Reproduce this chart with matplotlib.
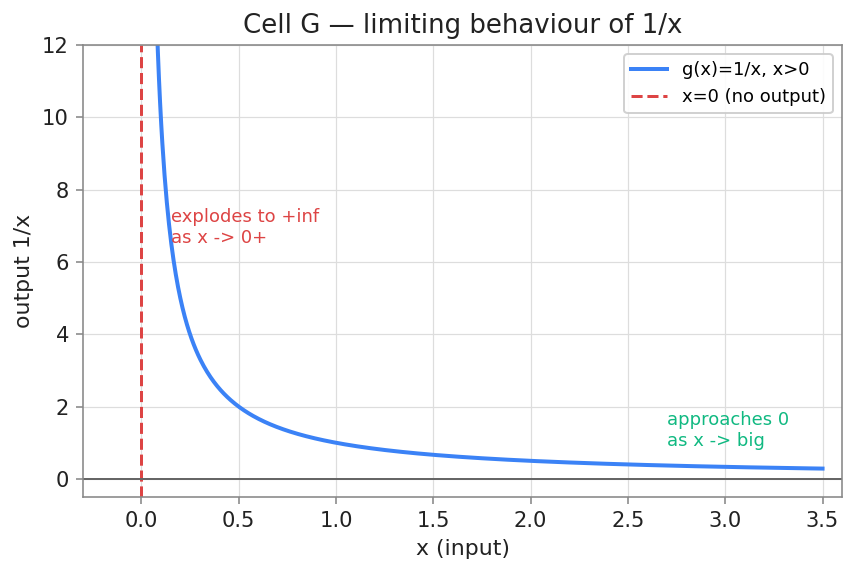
import matplotlib
matplotlib.use("Agg")
import matplotlib.pyplot as plt
import numpy as np

# data
x_vals = np.linspace(0.05, 3.5, 600)
g_vals = 1.0 / x_vals
asymptote_x = 0.0

blue = "#3b82f6"
red = "#dd4444"
green = "#10b981"
ink = "#222222"

fig = plt.figure(figsize=(856 / 144, 573 / 144), dpi=144)
ax = fig.add_axes([83 / 856, 1 - 497 / 573, (842 - 83) / 856, (497 - 45) / 573])

ax.plot(x_vals, g_vals, color=blue, linewidth=2.0, label="g(x)=1/x, x>0")
ax.axvline(asymptote_x, color=red, linestyle="--", linewidth=1.5, label="x=0 (no output)")
ax.axhline(0, color="#666666", linewidth=1.0)

ax.text(0.15, 6.42, "explodes to +inf\nas x -> 0+", color=red, fontsize=9,
        ha="left", va="bottom")
ax.text(2.7, 0.8, "approaches 0\nas x -> big", color=green, fontsize=9,
        ha="left", va="bottom")

ax.set_xlim(-0.3, 3.6)
ax.set_ylim(-0.5, 12)
ax.set_xticks(np.arange(0, 3.51, 0.5))
ax.set_yticks(np.arange(0, 12.1, 2))
ax.grid(True, color="#dddddd", linewidth=0.6)
ax.set_axisbelow(True)
for s in ax.spines.values():
    s.set_color("#888888")
ax.tick_params(labelsize=10.5, color="#888888", labelcolor=ink)

ax.set_title("Cell G — limiting behaviour of 1/x", fontsize=13, color=ink)
ax.set_xlabel("x (input)", fontsize=11, color=ink)
ax.set_ylabel("output 1/x", fontsize=11, color=ink)
ax.legend(loc="upper right", fontsize=9, framealpha=0.9)

fig.savefig("out.png", dpi=144)
